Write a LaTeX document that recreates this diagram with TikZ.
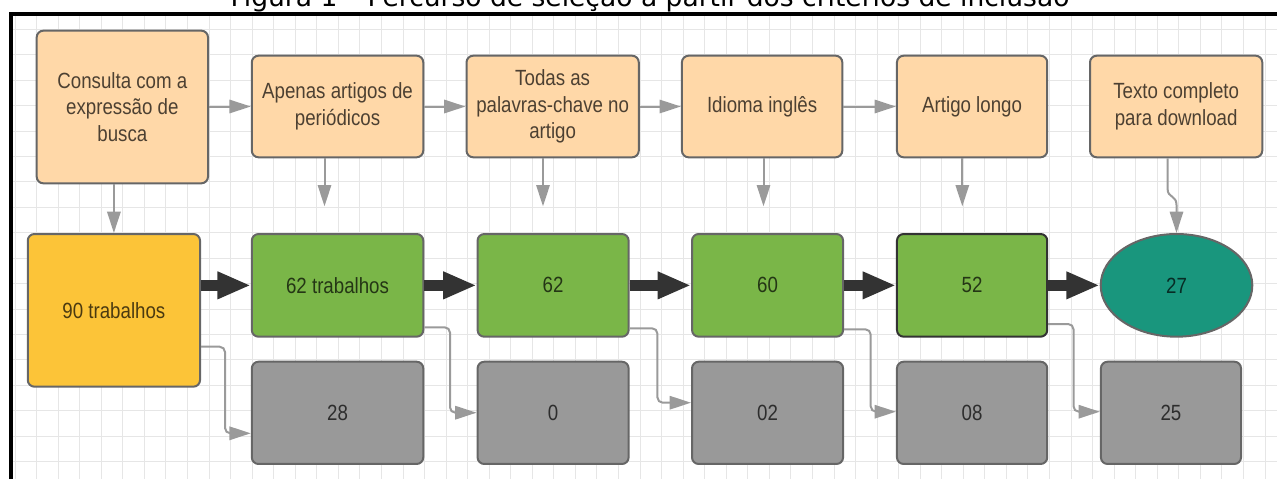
\documentclass[tikz,border=0pt]{standalone}
\usepackage{fontspec}
\setmainfont{Liberation Sans}[FakeStretch=0.85]
\newfontfamily\titlefont{DejaVu Sans}
\usetikzlibrary{arrows.meta,shapes.geometric}
\definecolor{peach}{HTML}{FFD8A8}
\definecolor{yel}{HTML}{FCC438}
\definecolor{grn}{HTML}{7AB648}
\definecolor{teal}{HTML}{19967D}
\definecolor{gbox}{HTML}{999999}
\definecolor{bordc}{HTML}{666666}
\definecolor{garr}{HTML}{9A9A9A}
\definecolor{tarr}{HTML}{333333}
\definecolor{gridc}{HTML}{E6E6E6}
\begin{document}
\begin{tikzpicture}[x=0.75pt,y=-0.75pt,
  basebox/.style={draw=bordc, line width=1.5pt, rounded corners=5pt, text=black, text opacity=0.7,
    font=\fontsize{16.5pt}{20pt}\selectfont, align=center, inner sep=0pt},
  critbox/.style={basebox, fill=peach, minimum height=76.2pt},
  resbox/.style={basebox, fill=grn, minimum height=77pt},
  excbox/.style={basebox, fill=gbox, minimum height=76.7pt},
  garrow/.style={draw=garr, line width=1.5pt, -{Triangle[length=16pt,width=10pt]}},
  elbow/.style={garrow, rounded corners=4pt},
  tarrow/.style={draw=tarr, line width=8pt, -{Triangle[length=25pt,width=19pt]}},
  gridline/.style={draw=gridc, line width=0.6pt}]
\useasboundingbox (0,0) rectangle (1277,479);
% grid
\foreach \i in {0,...,58} \draw[gridline] ({15+21.55*\i},16) -- ({15+21.55*\i},479);
\foreach \j in {0,...,17} \draw[gridline] (13,{29.3+25.43*\j}) -- (1277,{29.3+25.43*\j});
% frame
\draw[line width=3.4pt] (10.8,479) -- (10.8,13.8) -- (1277,13.8);
% title
\node[anchor=base, inner sep=0pt, font=\titlefont\fontsize{19.9pt}{24pt}\selectfont] (title) at (650,6.5)
  {Figura 1 – Percurso de seleção a partir dos critérios de inclusão};
% top row
\node[critbox, minimum width=128.5pt, minimum height=114.5pt] (cons) at (122.35,107) {Consulta com a\\expressão de\\busca};
\node[critbox, minimum width=128.6pt] (apen) at (337.55,106.5) {Apenas artigos de\\periódicos};
\node[critbox, minimum width=129.2pt] (toda) at (552.65,106.5) {Todas as\\palavras-chave no\\artigo};
\node[critbox, minimum width=120.3pt] (idio) at (762.1,106.5) {Idioma inglês};
\node[critbox, minimum width=112.7pt] (artl) at (972.1,106.5) {Artigo longo};
\node[critbox, minimum width=129.2pt] (txt) at (1176.15,106.5) {Texto completo\\para download};
% middle row
\node[basebox, fill=yel, minimum width=129.2pt, minimum height=114.5pt] (n90) at (113.9,310.35) {90 trabalhos};
\node[resbox, minimum width=128.6pt] (n62t) at (337.55,285.35) {62 trabalhos};
\node[resbox, minimum width=113.3pt] (n62) at (553.1,285.35) {62};
\node[resbox, minimum width=113.3pt] (n60) at (767.55,285.35) {60};
\node[resbox, minimum width=112.7pt, draw=tarr] (n52) at (972.1,285.35) {52};
\node[basebox, ellipse, fill=teal, minimum width=113.7pt, minimum height=77pt] (n27) at (1176.5,285.35) {27};
% bottom row
\node[excbox, minimum width=128.6pt] (g28) at (337.55,412.85) {28};
\node[excbox, minimum width=113.3pt] (g0) at (553.1,412.85) {0};
\node[excbox, minimum width=113.3pt] (g02) at (767.55,412.85) {02};
\node[excbox, minimum width=112.7pt] (g08) at (972.1,412.85) {08};
\node[excbox, minimum width=105.1pt] (g25) at (1170.95,412.85) {25};
% top horizontal arrows
\draw[garrow] (cons.east |- apen.west) -- (apen.west);
\draw[garrow] (apen.east) -- (toda.west);
\draw[garrow] (toda.east) -- (idio.west);
\draw[garrow] (idio.east) -- (artl.west);
% down arrows
\draw[garrow] (n90.north |- cons.south) -- (n90.north);
\draw[garrow, shorten >=20pt] (apen.south -| 324.5,0) -- (n62t.north -| 324.5,0);
\draw[garrow, shorten >=20pt] (toda.south -| 543,0) -- (n62.north -| 543,0);
\draw[garrow, shorten >=20pt] (idio.south -| 763.5,0) -- (n60.north -| 763.5,0);
\draw[garrow, shorten >=20pt] (artl.south -| 962.3,0) -- (n52.north -| 962.3,0);
\draw[garrow] (txt.south -| 1167.6,0) -- (1167.6,189) .. controls (1167.6,198) and (1176.5,195) .. (1176.5,205) -- (n27.north);
% thick arrows
\draw[tarrow] (n90.east |- n62t.west) -- (n62t.west);
\draw[tarrow] (n62t.east) -- (n62.west);
\draw[tarrow] (n62.east) -- (n60.west);
\draw[tarrow] (n60.east) -- (n52.west);
\draw[tarrow] (n52.east) -- (n27.west);
% elbow arrows to excluded
\draw[elbow] (n90.east |- 0,346.7) -| (225,433.3) -- (g28.west |- 0,433.3);
\draw[elbow] (n62t.east |- 0,327.3) -| (450,412.7) -- (g0.west |- 0,412.7);
\draw[elbow] (n62.east |- 0,328.3) -| (657.4,402.7) -- (g02.west |- 0,402.7);
\draw[elbow] (n60.east |- 0,329.3) -| (870.7,411.7) -- (g08.west |- 0,411.7);
\draw[elbow] (n52.east |- 0,324) -| (1073.5,411.7) -- (g25.west |- 0,411.7);
\end{tikzpicture}
\end{document}
